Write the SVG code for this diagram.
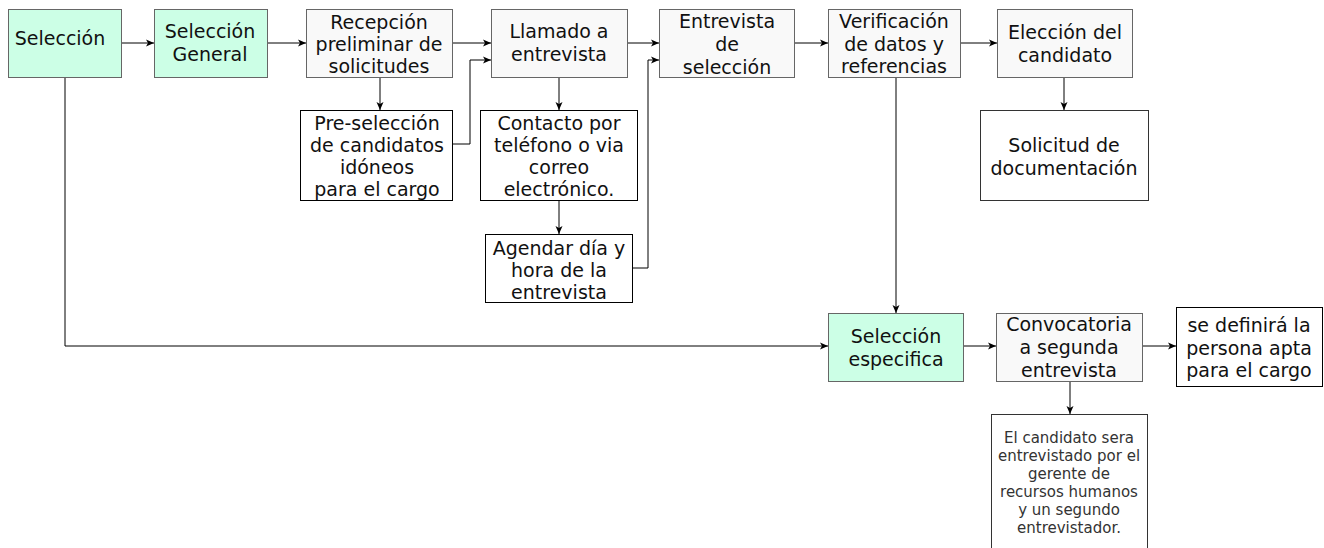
<svg xmlns="http://www.w3.org/2000/svg" width="1324" height="548" viewBox="0 0 1324 548">
<defs>
<marker id="arr" markerUnits="userSpaceOnUse" markerWidth="10" markerHeight="10" viewBox="0 0 10 10" refX="9" refY="5" orient="auto">
<path d="M1,1.5 L9,5 L1,8.5 L3,5 Z" fill="#000"/>
</marker>
<style>
.mint{fill:#ccffe6;stroke:#666;stroke-width:1}
.gray{fill:#f9f9f9;stroke:#666;stroke-width:1}
.plain{fill:#fff;stroke:#000;stroke-width:1}
.dark{fill:#fff;stroke:#333;stroke-width:1}
text{font-family:"DejaVu Sans",Verdana,sans-serif;font-size:19px;fill:#111;text-anchor:middle}
.small{font-size:15px;fill:#333}
.c{fill:none;stroke:#000;stroke-width:1;marker-end:url(#arr)}
</style>
</defs>
<rect width="1324" height="548" fill="#fff"/>
<g id="connectors">
<path class="c" d="M121,43 H154"/>
<path class="c" d="M267,43 H306"/>
<path class="c" d="M452,43 H491"/>
<path class="c" d="M380,77 V110"/>
<path class="c" d="M452,144 H470 V60 H491"/>
<path class="c" d="M627,43 H659"/>
<path class="c" d="M559,77 V110"/>
<path class="c" d="M559,200 V234"/>
<path class="c" d="M632,268 H648 V60 H659"/>
<path class="c" d="M794,43 H828"/>
<path class="c" d="M960,43 H997"/>
<path class="c" d="M1064,77 V110"/>
<path class="c" d="M896,77 V313"/>
<path class="c" d="M65,77 V346 H828"/>
<path class="c" d="M963,346 H996"/>
<path class="c" d="M1142,346 H1176"/>
<path class="c" d="M1070,381 V414"/>
</g>
<g id="seleccion">
<rect class="mint" x="8.5" y="9.5" width="113" height="68"/>
<text x="60" y="45">Selección</text>
</g>
<g id="seleccion-general">
<rect class="mint" x="154.5" y="9.5" width="113" height="68"/>
<text x="210" y="38">Selección</text>
<text x="210" y="61">General</text>
</g>
<g id="recepcion">
<rect class="gray" x="306.5" y="9.5" width="146" height="68"/>
<text x="379" y="29">Recepción</text>
<text x="379" y="51">preliminar de</text>
<text x="379" y="73">solicitudes</text>
</g>
<g id="preseleccion">
<rect class="plain" x="300.5" y="110.5" width="152" height="90"/>
<text x="377" y="130">Pre-selección</text>
<text x="377" y="152">de candidatos</text>
<text x="377" y="174">idóneos</text>
<text x="377" y="196">para el cargo</text>
</g>
<g id="llamado">
<rect class="gray" x="491.5" y="9.5" width="136" height="68"/>
<text x="559" y="38">Llamado a</text>
<text x="559" y="61">entrevista</text>
</g>
<g id="contacto">
<rect class="plain" x="480.5" y="110.5" width="157" height="90"/>
<text x="559" y="130">Contacto por</text>
<text x="559" y="152">teléfono o via</text>
<text x="559" y="174">correo</text>
<text x="559" y="196">electrónico.</text>
</g>
<g id="agendar">
<rect class="plain" x="485.5" y="234.5" width="147" height="68"/>
<text x="559" y="255">Agendar día y</text>
<text x="559" y="277">hora de la</text>
<text x="559" y="299">entrevista</text>
</g>
<g id="entrevista-seleccion">
<rect class="gray" x="659.5" y="9.5" width="135" height="68"/>
<text x="727" y="28">Entrevista</text>
<text x="727" y="51">de</text>
<text x="727" y="74">selección</text>
</g>
<g id="verificacion">
<rect class="gray" x="828.5" y="9.5" width="132" height="68"/>
<text x="894" y="28">Verificación</text>
<text x="894" y="51">de datos y</text>
<text x="894" y="73">referencias</text>
</g>
<g id="eleccion">
<rect class="gray" x="997.5" y="9.5" width="135" height="68"/>
<text x="1065" y="39">Elección del</text>
<text x="1065" y="62">candidato</text>
</g>
<g id="solicitud">
<rect class="dark" x="980.5" y="110.5" width="168" height="90"/>
<text x="1064" y="152">Solicitud de</text>
<text x="1064" y="175">documentación</text>
</g>
<g id="seleccion-especifica">
<rect class="mint" x="828.5" y="313.5" width="135" height="68"/>
<text x="896" y="343">Selección</text>
<text x="896" y="366">especifica</text>
</g>
<g id="convocatoria">
<rect class="gray" x="996.5" y="313.5" width="146" height="68"/>
<text x="1069" y="331">Convocatoria</text>
<text x="1069" y="354">a segunda</text>
<text x="1069" y="377">entrevista</text>
</g>
<g id="se-definira">
<rect class="plain" x="1176.5" y="307.5" width="146" height="79"/>
<text x="1249" y="332">se definirá la</text>
<text x="1249" y="355">persona apta</text>
<text x="1249" y="377">para el cargo</text>
</g>
<g id="el-candidato">
<rect class="dark" x="991.5" y="414.5" width="156" height="150"/>
<text class="small" x="1069" y="443">El candidato sera</text>
<text class="small" x="1069" y="461">entrevistado por el</text>
<text class="small" x="1069" y="479">gerente de</text>
<text class="small" x="1069" y="497">recursos humanos</text>
<text class="small" x="1069" y="515">y un segundo</text>
<text class="small" x="1069" y="533">entrevistador.</text>
</g>
</svg>
